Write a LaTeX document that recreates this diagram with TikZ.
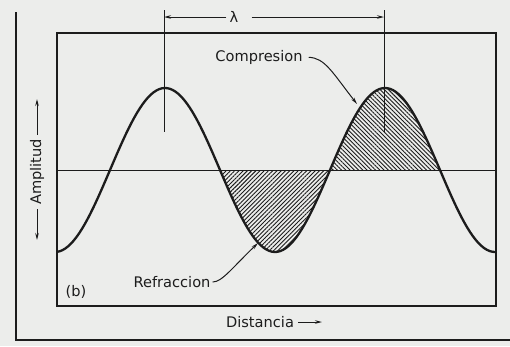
\documentclass[tikz,border=0pt]{standalone}
\usepackage{fontspec}
\setmainfont{DejaVu Sans}
\usetikzlibrary{arrows.meta,patterns.meta}
\definecolor{bg}{RGB}{236,237,235}
\definecolor{ink}{RGB}{28,28,28}
\begin{document}
\begin{tikzpicture}[x=1pt,y=-1pt,
  declare function={w(\t)=170-82*cos(1.6363636*(\t-165));},
  lbl/.style={font=\fontsize{14.6}{16}\selectfont, inner sep=0pt, text=ink},
  outerframe/.style={draw=ink, line width=1.3pt},
  innerframe/.style={draw=ink, line width=1.8pt},
  thinline/.style={draw=ink, line width=1pt},
  wave/.style={draw=ink, line width=2.3pt, line join=round},
  tipped/.style={-{Stealth[length=7pt,width=3.5pt]}},
  hatchup/.style={pattern={Lines[angle=45,distance=3pt,line width=0.9pt]}, pattern color=ink},
  hatchdown/.style={pattern={Lines[angle=-45,distance=3pt,line width=0.9pt]}, pattern color=ink},
]
\fill[bg] (0,0) rectangle (510,346);
\useasboundingbox (0,0) rectangle (510,346);

% hatched regions
\fill[hatchup] plot[domain=220:330, samples=60] (\x,{w(\x)}) -- cycle;
\fill[hatchdown] plot[domain=330:440, samples=60] (\x,{w(\x)}) -- cycle;

% frames
\draw[outerframe] (16,12) -- (16,340) -- (510,340);
\draw[innerframe] (57,33) rectangle (496,306);

% axis
\draw[thinline] (57,170) -- (496,170);

% wave
\draw[wave] plot[domain=57:495, samples=160] (\x,{w(\x)});

% wavelength marks
\coordinate (barLtop) at (164,10);
\coordinate (barLbot) at (164,132);
\coordinate (barRtop) at (384,10);
\coordinate (barRbot) at (384,132);
\draw[thinline] (barLtop) -- (barLbot);
\draw[thinline] (barRtop) -- (barRbot);
\node[lbl] (lam) at (234,17) {λ};
\coordinate (lamL) at (164,17);
\coordinate (lamR) at (384,17);
\draw[thinline,tipped,shorten <=3pt] (lam.west) -- (lamL);
\draw[thinline,tipped,shorten <=13pt] (lam.east) -- (lamR);

% labels
\node[lbl] (comp) at (259,57) {Compresion};
\coordinate (compTip) at (357,104);
\draw[thinline,tipped,shorten <=6pt] (comp.east) .. controls (325,58) and (332,72) .. (compTip);

\node[lbl] (refr) at (172,282) {Refraccion};
\coordinate (refrTip) at (258,243);
\draw[thinline,tipped,shorten <=2pt] (refr.east) .. controls (222,282) and (232,268) .. (refrTip);

\node[lbl] (blabel) at (76,292) {(b)};

\node[lbl, rotate=90] (amp) at (37,172) {Amplitud};
\coordinate (ampTop) at (37,99);
\coordinate (ampBot) at (37,240);
\draw[thinline,tipped,shorten <=4pt] (amp.east) -- (ampTop);
\draw[thinline,tipped,shorten <=4pt] (amp.west) -- (ampBot);

\node[lbl] (dist) at (260,322) {Distancia};
\coordinate (distTip) at (322,322);
\draw[thinline,tipped,shorten <=4pt] (dist.east) -- (distTip);
\end{tikzpicture}
\end{document}
